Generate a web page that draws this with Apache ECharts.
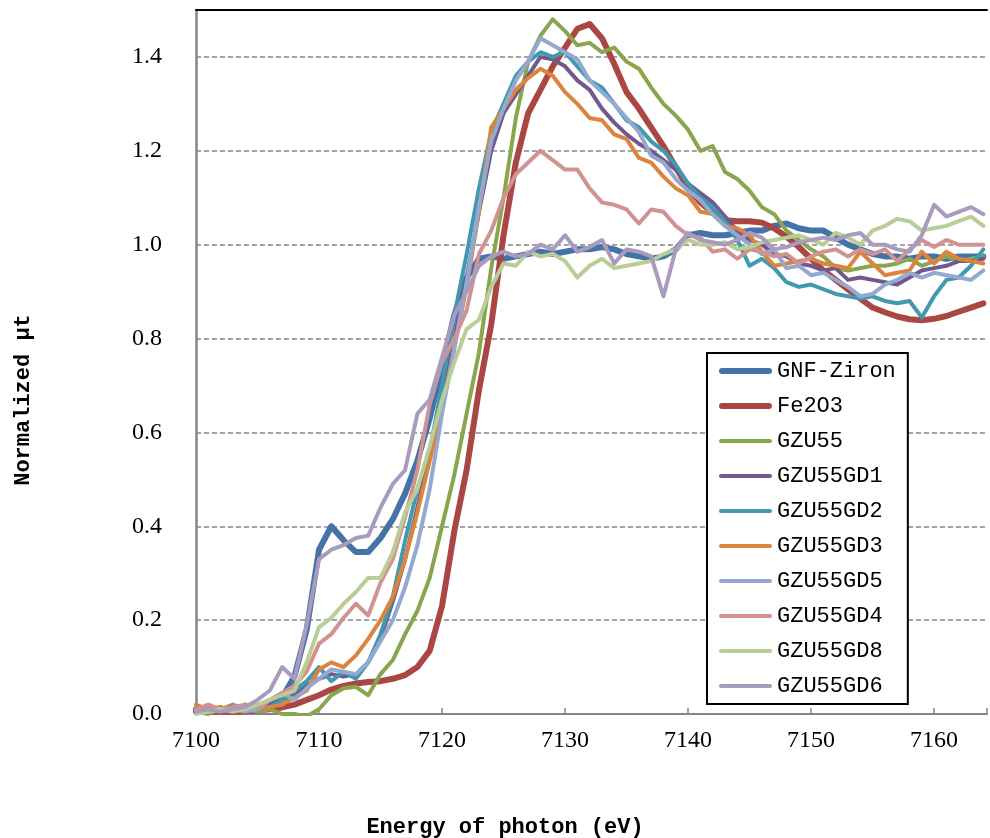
<!DOCTYPE html>
<html>
<head>
<meta charset="utf-8">
<script src="https://cdn.jsdelivr.net/npm/echarts@6/dist/echarts.min.js"></script>
<style>html,body{margin:0;padding:0;background:#fff}#c{width:990px;height:838px}</style>
</head>
<body>
<div id="c"></div>
<script>
const energies = [7100,7101,7102,7103,7104,7105,7106,7107,7108,7109,
7110,7111,7112,7113,7114,7115,7116,7117,7118,7119,
7120,7121,7122,7123,7124,7125,7126,7127,7128,7129,
7130,7131,7132,7133,7134,7135,7136,7137,7138,7139,
7140,7141,7142,7143,7144,7145,7146,7147,7148,7149,
7150,7151,7152,7153,7154,7155,7156,7157,7158,7159,
7160,7161,7162,7163,7164];

const seriesNames = ["GNF-Ziron","Fe2O3","GZU55","GZU55GD1","GZU55GD2","GZU55GD3","GZU55GD5","GZU55GD4","GZU55GD8","GZU55GD6"];

const gnfZiron = [0.01,0.01,0.01,0.012,0.01,0.015,0.02,0.035,0.08,0.18,
0.35,0.40,0.37,0.345,0.345,0.375,0.415,0.47,0.54,0.63,
0.74,0.85,0.93,0.97,0.975,0.97,0.975,0.98,0.985,0.98,
0.985,0.99,0.99,0.995,0.99,0.98,0.975,0.97,0.975,0.99,
1.02,1.025,1.02,1.02,1.025,1.03,1.03,1.04,1.045,1.035,
1.03,1.03,1.015,1.0,0.99,0.98,0.975,0.975,0.97,0.975,
0.975,0.97,0.975,0.975,0.975];

const fe2o3 = [0.005,0.005,0.005,0.005,0.006,0.008,0.01,0.014,0.02,0.03,
0.04,0.052,0.06,0.065,0.068,0.07,0.075,0.083,0.1,0.135,
0.23,0.39,0.52,0.69,0.83,1.02,1.175,1.28,1.33,1.38,
1.42,1.46,1.47,1.44,1.385,1.325,1.29,1.25,1.21,1.165,
1.12,1.09,1.068,1.052,1.05,1.05,1.047,1.035,1.017,0.995,
0.97,0.945,0.925,0.905,0.885,0.866,0.856,0.847,0.841,0.839,
0.842,0.848,0.857,0.866,0.875];

const gzu55 = [0.005,0.0,0.01,0.02,0.01,0.005,0.01,0.0,0.0,-0.005,
0.01,0.04,0.055,0.058,0.04,0.085,0.115,0.17,0.22,0.29,
0.40,0.51,0.64,0.77,0.95,1.10,1.27,1.39,1.445,1.48,
1.455,1.425,1.43,1.41,1.42,1.39,1.375,1.335,1.30,1.275,
1.245,1.2,1.21,1.155,1.14,1.115,1.08,1.065,1.03,1.01,
0.99,0.975,0.95,0.945,0.95,0.955,0.955,0.96,0.97,0.955,
0.965,0.975,0.965,0.97,0.975];

const gd1 = [0.01,0.005,0.01,0.015,0.01,0.01,0.02,0.03,0.04,0.06,
0.075,0.085,0.08,0.085,0.11,0.16,0.24,0.33,0.44,0.56,
0.68,0.80,0.93,1.07,1.2,1.28,1.32,1.36,1.40,1.395,
1.38,1.35,1.33,1.29,1.26,1.235,1.215,1.2,1.18,1.16,
1.13,1.11,1.09,1.06,1.03,1.01,1.0,0.98,0.975,0.96,
0.955,0.945,0.95,0.925,0.93,0.925,0.92,0.915,0.93,0.945,
0.95,0.955,0.965,0.965,0.97];

const gd2 = [0.01,0.015,0.005,0.01,0.02,0.01,0.015,0.03,0.05,0.07,
0.1,0.07,0.09,0.075,0.11,0.17,0.25,0.37,0.48,0.56,
0.70,0.85,0.98,1.12,1.24,1.30,1.36,1.39,1.41,1.40,
1.41,1.38,1.35,1.335,1.30,1.265,1.25,1.22,1.2,1.17,
1.13,1.1,1.08,1.05,1.01,0.955,0.97,0.95,0.92,0.91,
0.915,0.905,0.895,0.89,0.885,0.89,0.88,0.875,0.88,0.845,
0.89,0.925,0.93,0.955,0.99];

const gd3 = [0.02,0.01,0.015,0.005,0.02,0.01,0.015,0.02,0.035,0.05,
0.095,0.11,0.1,0.125,0.16,0.2,0.25,0.33,0.43,0.54,
0.65,0.78,0.91,1.07,1.25,1.29,1.33,1.355,1.375,1.36,
1.325,1.30,1.27,1.265,1.235,1.225,1.185,1.175,1.145,1.12,
1.105,1.07,1.065,1.04,1.035,1.02,0.985,0.955,0.96,0.965,
0.97,0.96,0.955,0.95,0.985,0.96,0.935,0.94,0.945,0.985,
0.96,0.985,0.97,0.965,0.96];

const gd5 = [0.01,0.005,0.01,0.01,0.005,0.01,0.03,0.045,0.03,0.055,
0.075,0.095,0.09,0.085,0.11,0.155,0.2,0.27,0.36,0.48,
0.64,0.78,0.92,1.08,1.22,1.29,1.35,1.39,1.44,1.425,
1.41,1.395,1.35,1.325,1.30,1.27,1.24,1.19,1.175,1.14,
1.115,1.095,1.065,1.04,1.02,1.0,0.98,0.99,0.95,0.955,
0.935,0.94,0.925,0.91,0.89,0.895,0.915,0.925,0.94,0.93,
0.94,0.935,0.93,0.925,0.945];

const gd4 = [0.01,0.02,0.01,0.015,0.02,0.015,0.03,0.045,0.06,0.09,
0.15,0.17,0.205,0.235,0.21,0.28,0.33,0.42,0.52,0.66,
0.75,0.80,0.86,0.98,1.03,1.10,1.15,1.175,1.2,1.18,
1.16,1.16,1.12,1.09,1.085,1.075,1.045,1.075,1.07,1.04,
1.02,1.015,0.985,0.99,0.97,0.99,0.985,0.975,0.98,0.96,
0.975,0.985,0.99,0.975,0.99,0.98,0.99,0.965,0.99,1.01,
0.995,1.01,1.0,1.0,1.0];

const gd8 = [0.0,0.005,0.01,0.005,0.01,0.02,0.03,0.04,0.05,0.11,
0.185,0.205,0.235,0.26,0.29,0.29,0.345,0.43,0.48,0.57,
0.67,0.75,0.82,0.84,0.91,0.96,0.955,0.985,0.975,0.98,
0.965,0.93,0.955,0.97,0.95,0.955,0.96,0.965,0.98,0.99,
1.01,1.0,1.0,1.005,0.99,0.995,1.005,1.01,1.015,1.02,
1.01,1.0,1.025,1.015,1.0,1.03,1.04,1.055,1.05,1.03,
1.035,1.04,1.05,1.06,1.04];

const gd6 = [0.005,0.01,0.005,0.01,0.015,0.03,0.05,0.1,0.075,0.19,
0.33,0.35,0.36,0.375,0.38,0.44,0.49,0.52,0.64,0.67,
0.76,0.85,0.90,0.955,0.975,0.985,0.975,0.98,1.0,0.99,
1.02,0.985,0.995,1.01,0.96,0.99,0.985,0.975,0.89,0.99,
1.025,1.01,1.005,1.0,1.01,1.025,1.015,0.99,0.995,1.005,
1.01,1.015,1.01,1.02,1.025,1.0,1.0,0.99,0.985,1.02,
1.085,1.06,1.07,1.08,1.065];

const xTicks = [7100,7110,7120,7130,7140,7150,7160];
const yTicks = [0,0.2,0.4,0.6,0.8,1.0,1.2,1.4];

const allValues = [gnfZiron,fe2o3,gzu55,gd1,gd2,gd3,gd5,gd4,gd8,gd6];
const colors = ['#4572A7','#AA4643','#89A54E','#71588F','#4198AF','#DB843D','#93A9CF','#D19392','#B9CD96','#A99BBD'];
const widths = [6,6,4,4,4,4,4,4,4,4];

const chart = echarts.init(document.getElementById('c'), null, {renderer:'canvas'});
const series = allValues.map((vals,i)=>({
  name: seriesNames[i],
  type:'line',
  showSymbol:false,
  symbol:'none',
  data: energies.map((e,j)=>[e, vals[j]]),
  lineStyle:{color:colors[i], width:widths[i], cap:'round', join:'round'},
  itemStyle:{color:colors[i]},
  z: 2
}));

const thickIcon = 'path://M3,0 L50,0 A3,3 0 0 1 50,6 L3,6 A3,3 0 0 1 3,0 Z';
const thinIcon = 'path://M2,0 L51,0 A2,2 0 0 1 51,4 L2,4 A2,2 0 0 1 2,0 Z';
const tickFont = {fontFamily:'"Liberation Serif", serif', fontSize:24, color:'#000'};

chart.setOption({
  animation:false,
  backgroundColor:'#fff',
  grid:{left:196, right:0, top:10, bottom:124, containLabel:false},
  xAxis:[{
    type:'value', min:7100, max:7164.3, interval:10,
    axisLine:{show:true, lineStyle:{color:'#868686', width:2}},
    axisTick:{show:true, inside:true, length:6, lineStyle:{color:'#868686', width:1.5}},
    axisLabel:Object.assign({margin:15, formatter:v=> xTicks.includes(Math.round(v*1000)/1000) ? String(v) : ''}, tickFont),
    splitLine:{show:false}
  },{
    type:'value', min:7100, max:7164.3, position:'top',
    axisLine:{show:true, onZero:false, lineStyle:{color:'#000', width:2}},
    axisTick:{show:false}, axisLabel:{show:false}, splitLine:{show:false}
  }],
  yAxis:{
    type:'value', min:0, max:1.5, interval:0.2,
    axisLine:{show:true, lineStyle:{color:'#868686', width:2.5}},
    axisTick:{show:false},
    axisLabel:Object.assign({margin:34, formatter:v=>{const r=Math.round(v*10)/10; return yTicks.some(t=>Math.abs(t-r)<1e-6)&&Math.abs(v-r)<1e-6 ? r.toFixed(1) : '';}}, tickFont),
    splitLine:{show:true, lineStyle:{color:'#868686', width:1.5, type:[5,3]}}
  },
  legend:{
    orient:'vertical', left:707, top:353,
    data:seriesNames.map((n,i)=>({name:n, icon: i<2 ? thickIcon : thinIcon, itemStyle:{color:colors[i], borderWidth:0}})),
    itemWidth:53, itemHeight:14, itemGap:11,
    symbolKeepAspect:true,
    padding:[6,12,6,12],
    borderColor:'#000', borderWidth:2, backgroundColor:'#fff',
    textStyle:{fontFamily:'"Liberation Mono", monospace', fontSize:22, color:'#000', lineHeight:24},
    selectedMode:false
  },
  graphic:[
    {type:'text', x:505, y:827, style:{text:'Energy of photon (eV)', font:'bold 22px "Liberation Mono", monospace', fill:'#000', align:'center', verticalAlign:'middle'}},
    {type:'text', x:23, y:400, rotation:Math.PI/2, style:{text:'Normalized μt', font:'bold 22px "Liberation Mono", monospace', fill:'#000', align:'center', verticalAlign:'middle'}}
  ],
  series: series
});
</script>
</body>
</html>
